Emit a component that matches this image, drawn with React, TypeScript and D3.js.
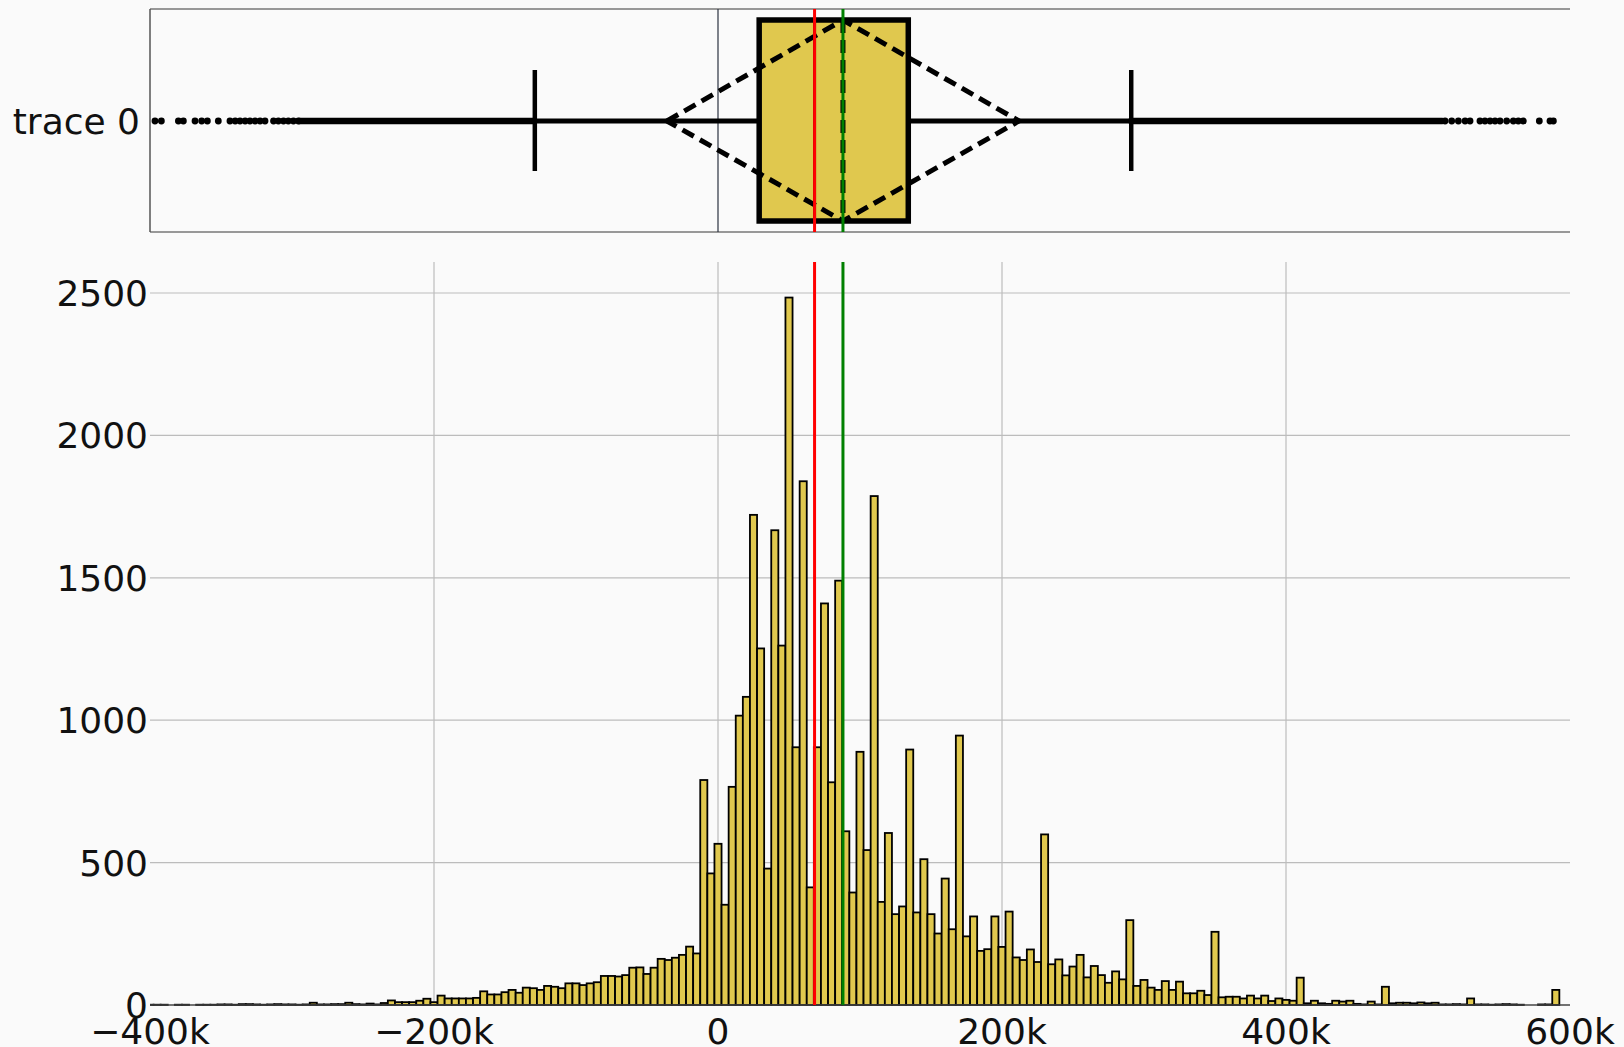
import React from 'react';
import * as d3 from 'd3';

// ---------- data ----------
const binStart = -400000; // centre of first bin
const binSize = 5000;
const counts = [
  1, 1, 1, 0, 1, 1, 0, 1, 1, 1,
  2, 2, 1, 3, 3, 2, 1, 2, 3, 2,
  2, 1, 2, 8, 2, 2, 3, 3, 8, 3,
  2, 5, 2, 7, 16, 10, 10, 10, 15, 22,
  10, 33, 23, 23, 23, 23, 25, 48, 37, 37,
  45, 53, 43, 61, 59, 53, 67, 64, 59, 76,
  76, 70, 76, 80, 102, 102, 100, 105, 131, 132,
  109, 131, 162, 158, 166, 176, 205, 181, 790, 462,
  566, 352, 766, 1016, 1082, 1721, 1252, 479, 1667, 1262,
  2484, 905, 1839, 413, 905, 1410, 782, 1490, 610, 395,
  889, 544, 1787, 362, 604, 319, 346, 897, 325, 512,
  319, 251, 444, 266, 946, 241, 311, 190, 196, 311,
  204, 328, 167, 158, 195, 151, 599, 143, 160, 104,
  135, 176, 97, 137, 105, 78, 118, 90, 298, 67,
  88, 61, 53, 84, 53, 82, 41, 41, 50, 35,
  257, 27, 29, 29, 23, 33, 23, 33, 14, 23,
  18, 15, 96, 6, 15, 6, 4, 15, 12, 15,
  4, 2, 12, 2, 64, 6, 8, 8, 6, 9,
  6, 8, 2, 2, 3, 2, 23, 2, 2, 1,
  2, 3, 2, 1, 0, 0, 2, 2, 53, 0,
];

const q1 = 29000;
const q3 = 134000;
const lowerWhisker = -129000;
const upperWhisker = 291000;
const meanValue = 88000;
const sdValue = 124000;
const medianValue = 68000;

const sparseOutliers = [
  -396500, -392000, -380000, -376500, -368300, -363600, -359600, -351900,
  -343700, -340000, -336600, -333000, -329600, -326000, -322500, -319000,
  -313000, -309600, -306000, -302600, -299000, -295500,
  512000, 516700, 521400, 526100, 529600, 536600, 540100, 543700, 547200,
  550700, 555400, 560100, 563600, 567100, 578400, 585900, 588300,
];
const denseOutlierRanges: [number, number][] = [
  [-295000, -130000],
  [291000, 510000],
];

const xTicks = [-400000, -200000, 0, 200000, 400000, 600000];
const xTickLabels = ['\u2212400k', '\u2212200k', '0', '200k', '400k', '600k'];
const yTicks = [0, 500, 1000, 1500, 2000, 2500];
const traceName = 'trace 0';

// ---------- layout ----------
const W = 1624;
const H = 1047;
const plotLeft = 150;
const plotRight = 1570;
const boxTop = 9;
const boxBottom = 232;
const histTop = 262;
const histBottom = 1005;

const FILL = '#e0c84e';
const BG = '#fafafa';
const GRID = '#bcbcbc';
const FONT = '"DejaVu Sans", Verdana, sans-serif';

export default function App() {
  const x = d3.scaleLinear().domain([-400000, 600000]).range([plotLeft, plotRight]);
  const y = d3.scaleLinear().domain([0, 2500]).range([histBottom, 293]);

  const boxMidY = 121;
  const boxY0 = 20;
  const boxY1 = 221;
  const capY0 = 70;
  const capY1 = 171;

  const bins = counts.map((c, i) => {
    const centre = binStart + i * binSize;
    return { x0: centre - binSize / 2, x1: centre + binSize / 2, c };
  });

  const diamond = d3.line()([
    [x(meanValue - sdValue), boxMidY],
    [x(meanValue), boxY0],
    [x(meanValue + sdValue), boxMidY],
    [x(meanValue), boxY1],
    [x(meanValue - sdValue), boxMidY],
  ]) as string;

  return (
    <svg
      width={W}
      height={H}
      style={{ position: 'absolute', left: 0, top: 0, background: BG }}
      fontFamily={FONT}
    >
      <rect x={0} y={0} width={W} height={H} fill={BG} />
      <defs>
        <clipPath id="histClip">
          <rect x={plotLeft} y={histTop} width={plotRight - plotLeft} height={histBottom - histTop + 2} />
        </clipPath>
      </defs>

      {/* ---------- box panel ---------- */}
      <line x1={plotLeft} x2={plotRight} y1={boxTop} y2={boxTop} stroke="#777" strokeWidth={1.5} />
      <line x1={plotLeft} x2={plotRight} y1={boxBottom} y2={boxBottom} stroke="#777" strokeWidth={1.5} />
      <line x1={plotLeft} x2={plotLeft} y1={boxTop} y2={boxBottom} stroke="#555" strokeWidth={1.5} />
      <line x1={x(0)} x2={x(0)} y1={boxTop} y2={boxBottom} stroke="#2a3140" strokeWidth={1.2} />

      {/* whiskers */}
      <line x1={x(lowerWhisker)} x2={x(q1)} y1={boxMidY} y2={boxMidY} stroke="#000" strokeWidth={5} />
      <line x1={x(q3)} x2={x(upperWhisker)} y1={boxMidY} y2={boxMidY} stroke="#000" strokeWidth={5} />
      {/* outliers */}
      {denseOutlierRanges.map(([a, b], i) => (
        <line key={'d' + i} x1={x(a)} x2={x(b)} y1={boxMidY} y2={boxMidY} stroke="#000" strokeWidth={6.5} strokeLinecap="round" />
      ))}
      {sparseOutliers.map((v, i) => (
        <circle key={'o' + i} cx={x(v)} cy={boxMidY} r={3.4} fill="#000" />
      ))}
      {/* caps */}
      <line x1={x(lowerWhisker)} x2={x(lowerWhisker)} y1={capY0} y2={capY1} stroke="#000" strokeWidth={4.5} />
      <line x1={x(upperWhisker)} x2={x(upperWhisker)} y1={capY0} y2={capY1} stroke="#000" strokeWidth={4.5} />
      {/* box */}
      <rect x={x(q1)} y={boxY0} width={x(q3) - x(q1)} height={boxY1 - boxY0} fill={FILL} stroke="#000" strokeWidth={5.5} />
      <line x1={x(medianValue)} x2={x(medianValue)} y1={boxY0} y2={boxY1} stroke="#000" strokeWidth={3} />
      {/* mean / sd */}
      <path d={diamond} fill="none" stroke="#000" strokeWidth={5} strokeDasharray="13,7" />
      <line x1={x(meanValue)} x2={x(meanValue)} y1={boxY0} y2={boxY1} stroke="#000" strokeWidth={5} strokeDasharray="13,7" />
      <line x1={x(medianValue)} x2={x(medianValue)} y1={boxTop} y2={boxBottom} stroke="#ff0000" strokeWidth={3} />
      <line x1={x(meanValue)} x2={x(meanValue)} y1={boxTop} y2={boxBottom} stroke="#008000" strokeWidth={3} />
      <text x={140} y={boxMidY + 13} textAnchor="end" fontSize={36} fill="#111">{traceName}</text>

      {/* ---------- histogram panel ---------- */}
      {yTicks.filter((t) => t > 0).map((t) => (
        <line key={'gy' + t} x1={plotLeft} x2={plotRight} y1={y(t)} y2={y(t)} stroke={GRID} strokeWidth={1.2} />
      ))}
      {xTicks.filter((t) => t > -400000 && t < 600000).map((t) => (
        <line key={'gx' + t} x1={x(t)} x2={x(t)} y1={histTop} y2={histBottom} stroke={GRID} strokeWidth={1.2} />
      ))}
      <g clipPath="url(#histClip)">
        {bins.filter((b) => b.c > 0).map((b, i) => (
          <rect
            key={'b' + i}
            x={x(b.x0)}
            y={y(b.c)}
            width={x(b.x1) - x(b.x0)}
            height={histBottom - y(b.c)}
            fill={FILL}
            stroke="#000"
            strokeWidth={1.8}
          />
        ))}
      </g>
      <line x1={plotLeft} x2={plotRight} y1={histBottom} y2={histBottom} stroke="#444" strokeWidth={1.5} />
      <line x1={x(medianValue)} x2={x(medianValue)} y1={histTop} y2={histBottom} stroke="#ff0000" strokeWidth={3} />
      <line x1={x(meanValue)} x2={x(meanValue)} y1={histTop} y2={histBottom} stroke="#008000" strokeWidth={3} />

      {yTicks.map((t) => (
        <text key={'ty' + t} x={148} y={y(t) + 13} textAnchor="end" fontSize={36} fill="#111">{t}</text>
      ))}
      {xTicks.map((t, i) => (
        <text key={'tx' + t} x={x(t)} y={1044} textAnchor="middle" fontSize={36} fill="#111">{xTickLabels[i]}</text>
      ))}
    </svg>
  );
}
